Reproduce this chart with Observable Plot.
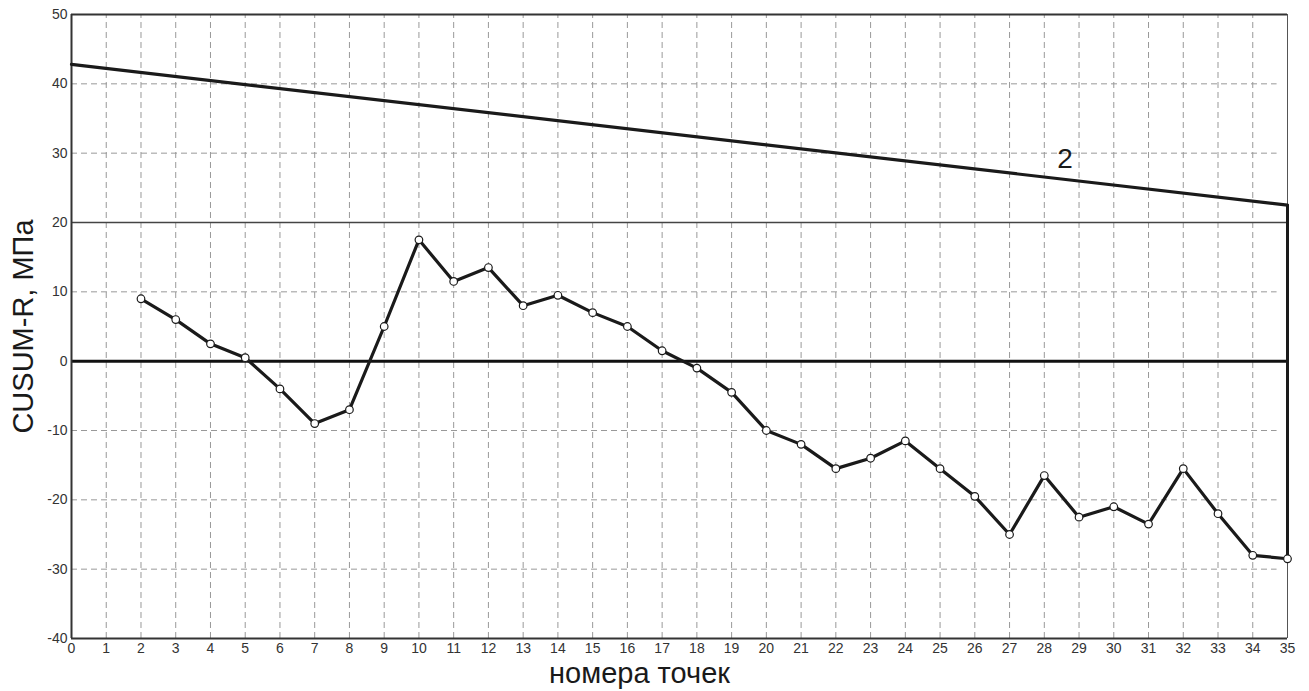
<!DOCTYPE html>
<html>
<head>
<meta charset="utf-8">
<script src="https://cdn.jsdelivr.net/npm/d3@7"></script>
<script src="https://cdn.jsdelivr.net/npm/@observablehq/plot@0.6"></script>
<style>
  html, body { margin: 0; padding: 0; background: #fff; }
  #chart svg { display: block; }
</style>
</head>
<body>
<div id="chart"></div>
<script>
const points = [2,3,4,5,6,7,8,9,10,11,12,13,14,15,16,17,18,19,20,21,22,23,24,25,26,27,28,29,30,31,32,33,34,35];
const cusum = [9,6,2.5,0.5,-4,-9,-7,5,17.5,11.5,13.5,8,9.5,7,5,1.5,-1,-4.5,-10,-12,-15.5,-14,-11.5,-15.5,-19.5,-25,-16.5,-22.5,-21,-23.5,-15.5,-22,-28,-28.5];
const limitX = [0, 35];
const limitY = [42.8, 22.5];
const xTicks = d3.range(0, 36);
const yTicks = [-40,-30,-20,-10,0,10,20,30,40,50];
const labelText = "2";
const labelPos = {x: 28.6, y: 29.2};

const data = points.map((p, i) => ({x: p, y: cusum[i]}));
const limit = limitX.map((x, i) => ({x, y: limitY[i]}));

const font = "Liberation Sans, Arial, sans-serif";
const plot = Plot.plot({
  width: 1309,
  height: 691,
  marginLeft: 71,
  marginRight: 22,
  marginTop: 14,
  marginBottom: 53,
  style: {fontFamily: font, fontSize: "14px", color: "#333", background: "#fff"},
  x: {domain: [0, 35]},
  y: {domain: [-40, 50]},
  marks: [
    Plot.ruleX(xTicks.filter(d => d > 0 && d < 35), {y1: -40, y2: 50, stroke: "#999", strokeWidth: 1, strokeDasharray: "6,4"}),
    Plot.ruleY(yTicks.filter(d => d !== 20 && d !== 0 && d !== -40 && d !== 50), {x1: 0, x2: 34.7, stroke: "#999", strokeWidth: 1, strokeDasharray: "6,4"}),
    Plot.ruleY([20], {x1: 0, x2: 35, stroke: "#444", strokeWidth: 1.5}),
    Plot.ruleY([0], {x1: 0, x2: 35, stroke: "#111", strokeWidth: 3}),
    Plot.ruleX([35], {y1: -40, y2: 50, stroke: "#555", strokeWidth: 1}),
    Plot.ruleX([35], {y1: limitY[1], y2: cusum[cusum.length - 1], stroke: "#1a1a1a", strokeWidth: 3}),
    Plot.ruleX([0], {y1: -40, y2: 50, stroke: "#333", strokeWidth: 2}),
    Plot.ruleY([-40], {x1: 0, x2: 35, stroke: "#333", strokeWidth: 2}),
    Plot.ruleY([50], {x1: 0, x2: 35, stroke: "#333", strokeWidth: 2}),
    Plot.line(limit, {x: "x", y: "y", stroke: "#1a1a1a", strokeWidth: 3.2}),
    Plot.line(data, {x: "x", y: "y", stroke: "#1a1a1a", strokeWidth: 3.2}),
    Plot.dot(data, {x: "x", y: "y", r: 3.8, fill: "#fff", stroke: "#1a1a1a", strokeWidth: 1.2}),
    Plot.text([labelPos], {x: "x", y: "y", text: () => labelText, fontSize: 28, fill: "#1a1a1a", fontFamily: font}),
    Plot.axisX({ticks: xTicks, tickSize: 0, tickPadding: 5, tickFormat: d => String(d), fontSize: 14, label: null}),
    Plot.axisY({ticks: yTicks, tickSize: 0, tickPadding: 4, tickFormat: d => String(d), fontSize: 14, label: null}),
    Plot.text(["номера точек"], {frameAnchor: "bottom", lineAnchor: "middle", dx: -40, dy: 35, fontSize: 29, fill: "#1a1a1a", fontFamily: font}),
    Plot.text(["CUSUM-R, МПа"], {frameAnchor: "left", textAnchor: "middle", lineAnchor: "middle", dx: -48, rotate: -90, fontSize: 29, fill: "#1a1a1a", fontFamily: font})
  ]
});
document.getElementById("chart").appendChild(plot);
</script>
</body>
</html>
